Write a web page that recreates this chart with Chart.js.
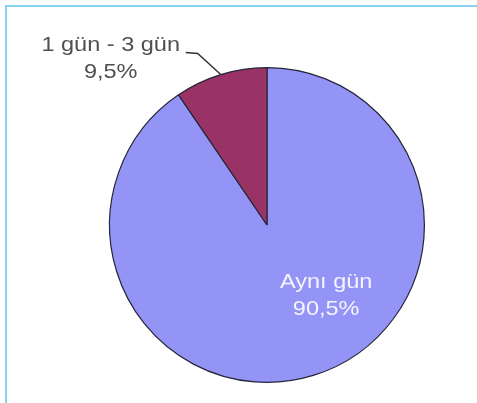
<!DOCTYPE html>
<html>
<head>
<meta charset="utf-8">
<script src="https://cdn.jsdelivr.net/npm/chart.js@4"></script>
<style>
  html, body { margin: 0; padding: 0; background: #fff; }
  .wrap { position: relative; width: 477px; height: 403px; }
  .frame { position: absolute; left: 5px; top: 5px; right: 0; bottom: 0;
           border-top: 2px solid #88d4ec; border-left: 2px solid #88d4ec; }
  canvas { position: absolute; left: 0; top: 0; }
</style>
</head>
<body>
<div class="wrap">
  <div class="frame"></div>
  <canvas id="pie" width="477" height="403"></canvas>
</div>
<script>
const labels = ["Aynı gün", "1 gün - 3 gün"];
const values = [90.5, 9.5];
const valueText = ["90,5%", "9,5%"];
const colors = ["#9494f6", "#993366"];

const font = "21px 'Liberation Sans', Arial, sans-serif";
const stretch = 1.12;

function drawText(ctx, txt, x, y) {
  ctx.save();
  ctx.translate(x, y);
  ctx.scale(stretch, 1);
  ctx.fillText(txt, 0, 0);
  ctx.restore();
}

const pieLabels = {
  id: "pieLabels",
  afterDatasetsDraw(chart) {
    const ctx = chart.ctx;
    const arcs = chart.getDatasetMeta(0).data;
    ctx.save();
    ctx.font = font;
    ctx.textAlign = "center";
    ctx.textBaseline = "middle";

    // big slice: label inside, toward lower right
    const a0 = arcs[0];
    const ang = 50 * Math.PI / 180;
    const r0 = a0.outerRadius * 0.585;
    const x0 = a0.x + r0 * Math.cos(ang);
    const y0 = a0.y + r0 * Math.sin(ang);
    ctx.fillStyle = "#f4f4ff";
    drawText(ctx, labels[0], x0, y0 - 13);
    drawText(ctx, valueText[0], x0, y0 + 14);

    // small slice: outside label with leader line
    const a1 = arcs[1];
    const mid = (a1.startAngle + a1.endAngle) / 2;
    const px = a1.x + a1.outerRadius * Math.cos(mid);
    const py = a1.y + a1.outerRadius * Math.sin(mid);
    const ex = px - 23, ey = py - 21;
    const hx = ex - 12;
    ctx.strokeStyle = "#333";
    ctx.lineWidth = 1.5;
    ctx.beginPath();
    ctx.moveTo(px, py);
    ctx.lineTo(ex, ey);
    ctx.lineTo(hx, ey - 1);
    ctx.stroke();

    const tx = hx - 75;
    ctx.fillStyle = "#505050";
    drawText(ctx, labels[1], tx, ey - 8);
    drawText(ctx, valueText[1], tx, ey + 19);
    ctx.restore();
  }
};

new Chart(document.getElementById("pie"), {
  type: "pie",
  data: {
    labels: labels,
    datasets: [{
      data: values,
      backgroundColor: colors,
      borderColor: "#26263a",
      borderWidth: 1.2,
    }]
  },
  options: {
    responsive: false,
    animation: false,
    layout: { padding: { left: 109, right: 52, top: 67, bottom: 20 } },
    plugins: {
      legend: { display: false },
      tooltip: { enabled: false },
    }
  },
  plugins: [pieLabels]
});
</script>
</body>
</html>
